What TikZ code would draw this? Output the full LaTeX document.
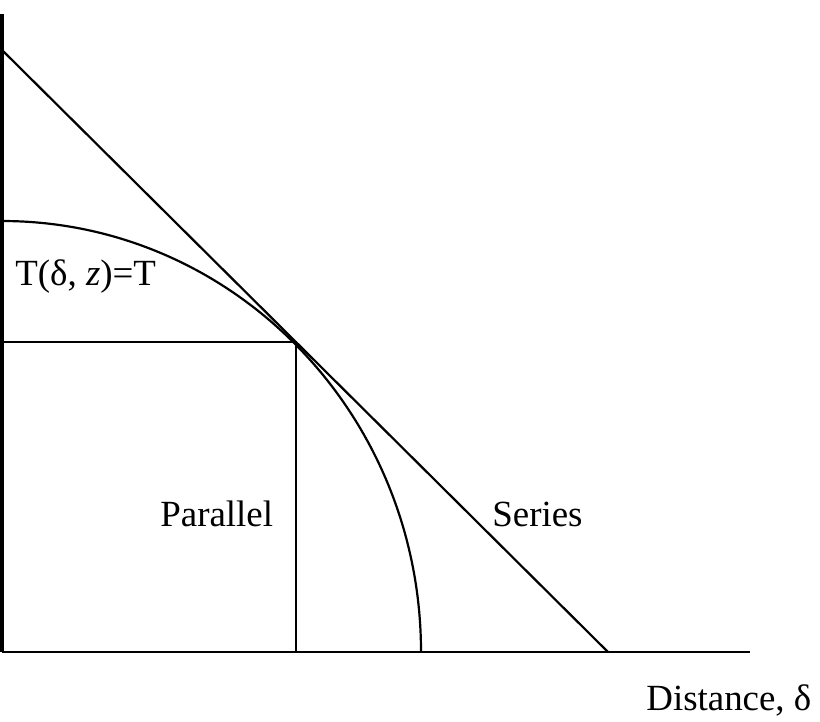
\documentclass[tikz,border=0pt]{standalone}
\usepackage{fontspec}
\setmainfont{Liberation Serif}
\usetikzlibrary{positioning, calc}
\tikzset{
    axis/.style={line width=1.3pt, black},
    curve/.style={line width=1.25pt, black},
    lbl/.style={inner sep=0pt, anchor=base west, font=\fontsize{21}{25}\selectfont}
}

\begin{document}
\begin{tikzpicture}[x=0.02cm, y=-0.02cm]
  \useasboundingbox (0,0) rectangle (820,721);
  % axes and corner points
  \coordinate (top) at (2,14);
  \coordinate (origin) at (2,652);
  \coordinate (xend) at (750,652);
  \coordinate (serstart) at (2,50);
  \coordinate (serend) at (608,652);
  \coordinate (touch) at (296,342);
  \coordinate (rectleft) at (2,342);
  \coordinate (rectbase) at (296,652);
  \coordinate (arctop) at (2,221);

  \draw [axis, line width=2pt] (top) -- (origin);
  \draw [axis] (origin) -- (xend);
  \draw [curve] (serstart) -- (serend);
  \draw [curve] (rectleft) -- (touch) -- (rectbase);
  \draw [curve] (arctop) arc[start angle=90, end angle=0, x radius=419, y radius=-431];

  \node (locus) [lbl] at (15,285) {T(δ, \textit{z})=T};
  \node (parallel) [lbl] at (160,526) {Parallel};
  \node (series) [lbl] at (492,526) {Series};
  \node (distance) [lbl] at (646,710) {Distance, δ};
\end{tikzpicture}
\end{document}
